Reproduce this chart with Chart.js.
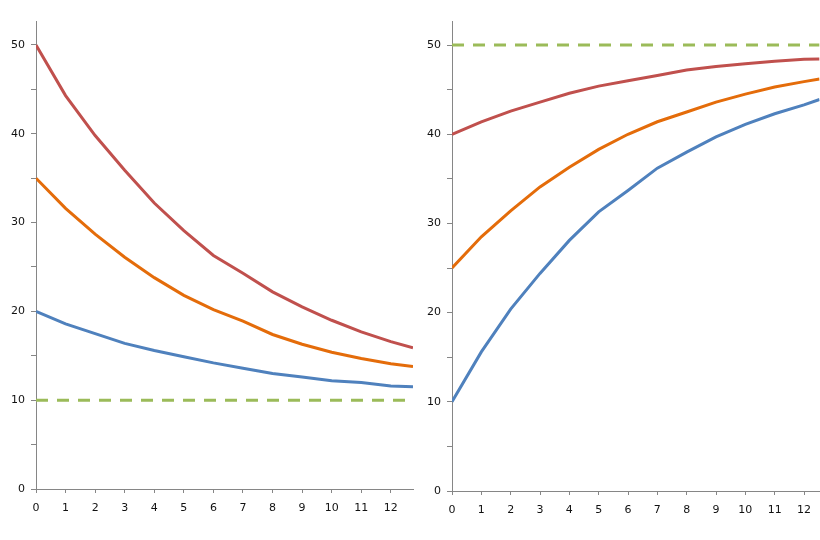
<!DOCTYPE html>
<html>
<head>
<meta charset="utf-8">
<script src="https://cdn.jsdelivr.net/npm/chart.js@4/dist/chart.umd.min.js"></script>
<style>
  body { margin: 0; background: #fff; }
  canvas { position: absolute; top: 0; }
  #leftChart { left: 0; }
  #rightChart { left: 415px; }
</style>
</head>
<body>
<canvas id="leftChart" width="415" height="540"></canvas>
<canvas id="rightChart" width="405" height="540"></canvas>
<script>
// left panel: cooling towards 10
const leftX = [0, 1, 2, 3, 4, 5, 6, 7, 8, 9, 10, 11, 12, 12.75];
const leftRed = [50, 44.3, 39.8, 35.9, 32.2, 29.1, 26.3, 24.3, 22.2, 20.5, 19.0, 17.7, 16.6, 15.9];
const leftOrange = [35, 31.6, 28.7, 26.1, 23.8, 21.8, 20.2, 18.9, 17.4, 16.3, 15.4, 14.7, 14.1, 13.8];
const leftBlue = [20, 18.6, 17.5, 16.4, 15.6, 14.9, 14.2, 13.6, 13.0, 12.6, 12.2, 12.0, 11.6, 11.5];
const leftLimit = 10;

// right panel: warming towards 50
const rightX = [0, 1, 2, 3, 4, 5, 6, 7, 8, 9, 10, 11, 12, 12.53];
const rightRed = [40, 41.4, 42.6, 43.6, 44.6, 45.4, 46.0, 46.6, 47.2, 47.6, 47.9, 48.2, 48.4, 48.45];
const rightOrange = [25, 28.5, 31.4, 34.1, 36.3, 38.3, 40.0, 41.4, 42.5, 43.6, 44.5, 45.3, 45.9, 46.2];
const rightBlue = [10, 15.6, 20.4, 24.4, 28.1, 31.3, 33.7, 36.2, 38.0, 39.7, 41.1, 42.3, 43.3, 43.9];
const rightLimit = 50;

const xTicks = [0, 1, 2, 3, 4, 5, 6, 7, 8, 9, 10, 11, 12];
const yTicks = [0, 5, 10, 15, 20, 25, 30, 35, 40, 45, 50];
const yLabels = [0, 10, 20, 30, 40, 50];

const yMax = 52.7;
const axisColor = "#868686";

const toPoints = (xs, ys) => xs.map((x, i) => ({ x: x, y: ys[i] }));

const serie = (xs, ys, color) => ({
  data: toPoints(xs, ys),
  borderColor: color,
  borderWidth: 3,
  pointRadius: 0,
  tension: 0,
});

const limite = (xs, value) => ({
  data: [{ x: xs[0], y: value }, { x: xs[xs.length - 1], y: value }],
  borderColor: "#9BBB59",
  borderWidth: 3,
  borderDash: [12, 9],
  pointRadius: 0,
});

const crearChart = (canvas, xs, red, orange, blue, limit, opts) => {
  return new Chart(canvas, {
    type: "line",
    data: {
      datasets: [
        limite(xs, limit),
        serie(xs, blue, "#4F81BD"),
        serie(xs, orange, "#E46C0A"),
        serie(xs, red, "#C0504D"),
      ],
    },
    options: {
      responsive: false,
      animation: false,
      layout: { padding: { top: 21, right: opts.padRight, left: 0, bottom: 0 } },
      plugins: { legend: { display: false }, tooltip: { enabled: false } },
      scales: {
        x: {
          type: "linear",
          min: 0,
          max: xs[xs.length - 1],
          afterBuildTicks: (scale) => {
            scale.ticks = xTicks.map((v) => ({ value: v }));
          },
          afterFit: (scale) => {
            scale.height = opts.xHeight;
          },
          ticks: {
            color: "#111",
            padding: 9,
            maxRotation: 0,
            autoSkip: false,
            font: { family: "DejaVu Sans", size: 11 },
          },
          grid: {
            drawOnChartArea: false,
            color: axisColor,
            tickLength: 4,
          },
          border: { color: axisColor, width: 1 },
        },
        y: {
          min: 0,
          max: yMax,
          afterBuildTicks: (scale) => {
            scale.ticks = yTicks.map((v) => ({ value: v }));
          },
          afterFit: (scale) => {
            scale.width = opts.yWidth;
          },
          ticks: {
            color: "#111",
            padding: 6,
            autoSkip: false,
            font: { family: "DejaVu Sans", size: 11 },
            callback: (v) => (yLabels.includes(v) ? String(v) : ""),
          },
          grid: {
            drawOnChartArea: false,
            color: axisColor,
            tickLength: 5,
          },
          border: { color: axisColor, width: 1 },
        },
      },
    },
  });
};

crearChart(document.getElementById("leftChart"), leftX, leftRed, leftOrange, leftBlue, leftLimit,
  { yWidth: 36, xHeight: 51, padRight: 2 });
crearChart(document.getElementById("rightChart"), rightX, rightRed, rightOrange, rightBlue, rightLimit,
  { yWidth: 37, xHeight: 49, padRight: 0 });
</script>
</body>
</html>
